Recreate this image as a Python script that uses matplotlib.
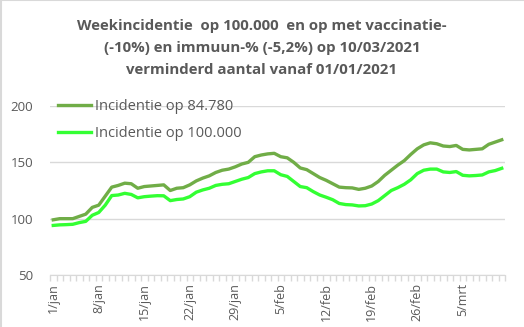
import matplotlib
matplotlib.use("Agg")
import matplotlib.pyplot as plt
from matplotlib.lines import Line2D

# weekincidentie per dag, 1 jan t/m 11 mrt 2021
incidentie_84780 = [99, 100, 100, 100, 102, 104, 110, 112, 120, 128,
                    129.5, 131.5, 131, 127, 128.5, 129, 129.5, 130, 125, 127,
                    127.5, 130, 133.5, 136, 138, 141, 143, 144, 146, 148.5,
                    150, 155, 156.5, 157.5, 158, 155, 154, 150, 145, 143.5,
                    140, 136.5, 134, 131, 128, 127.5, 127.3, 126, 127, 129,
                    133, 138.5, 143, 147.5, 151.5, 157, 162, 165.5, 167.3, 166.5,
                    164.5, 164, 165, 161.5, 161, 161.5, 162, 166, 168, 170]
incidentie_100000 = [94, 94.5, 94.7, 95, 96.5, 97.6, 103, 105.5, 112, 120.5,
                     121, 122.5, 121.5, 118.5, 119.5, 120, 120.4, 120.3, 116, 117,
                     117.5, 119.5, 123.5, 125.5, 127, 129.5, 130.5, 131, 133, 135,
                     136.5, 140, 141.5, 142.5, 142.5, 139, 137.5, 133, 128.5, 127.5,
                     124, 121, 119, 116.8, 113.5, 112.5, 112.2, 111.3, 111.5, 113,
                     116, 120.5, 125, 127.5, 130.5, 134.5, 140, 143, 144, 144,
                     141.5, 141, 141.8, 138.5, 138, 138.3, 138.8, 141.5, 142.7, 144.7]
tick_labels = ["1/jan", "8/jan", "15/jan", "22/jan", "29/jan",
               "5/feb", "12/feb", "19/feb", "26/feb", "5/mrt"]

titel = ("Weekincidentie  op 100.000  en op met vaccinatie-\n"
         "(-10%) en immuun-% (-5,2%) op 10/03/2021\n"
         "verminderd aantal vanaf 01/01/2021")

donker = "#70AD47"
licht = "#33FF33"
grijs = "#595959"
lijn = "#D9D9D9"

plt.rcParams["font.family"] = ["Open Sans", "DejaVu Sans"]

fig = plt.figure(figsize=(5.24, 3.27), dpi=100)
ax = fig.add_axes([50 / 524, 1 - 275 / 327, 455 / 524, 169 / 327])

x = list(range(len(incidentie_84780)))
ax.plot(x, incidentie_84780, color=donker, lw=2.4, solid_joinstyle="round")
ax.plot(x, incidentie_100000, color=licht, lw=2.4, solid_joinstyle="round")

ax.set_xlim(-0.5, len(x) - 0.5)
ax.set_ylim(50, 200)
ax.set_yticks([50, 100, 150, 200])
ax.yaxis.grid(True, color=lijn, lw=1)
ax.set_axisbelow(True)
for s in ["top", "right", "left"]:
    ax.spines[s].set_visible(False)
ax.spines["bottom"].set_color(lijn)
ax.tick_params(axis="y", length=0, labelsize=9.5, labelcolor=grijs, pad=12)

ax.set_xticks(range(0, len(x), 7))
ax.set_xticklabels(tick_labels, rotation=90)
ax.set_xticks([i - 0.5 for i in range(len(x) + 1)], minor=True)
ax.tick_params(axis="x", which="major", length=0, labelsize=9, labelcolor=grijs, pad=6)
ax.tick_params(axis="x", which="minor", length=4, color=lijn, width=1)

handles = [Line2D([], [], color=donker, lw=2.4), Line2D([], [], color=licht, lw=2.4)]
leg = ax.legend(handles, ["Incidentie op 84.780", "Incidentie op 100.000"],
                loc="upper left", bbox_to_anchor=(-0.012, 1.12), frameon=False,
                fontsize=10.5, handlelength=2.3, handletextpad=0.25, labelspacing=0.85)
for t in leg.get_texts():
    t.set_color(grijs)

fig.text(0.5, 1 - 19 / 327, titel, ha="center", va="top", fontsize=10.8,
         fontweight="bold", color=grijs, linespacing=1.72)

fig.add_artist(Line2D([0.001, 0.001], [0, 1], color=lijn, lw=1.5, transform=fig.transFigure))
fig.add_artist(Line2D([0, 1], [0.999, 0.999], color=lijn, lw=1.5, transform=fig.transFigure))

fig.savefig("out.png", dpi=100)
